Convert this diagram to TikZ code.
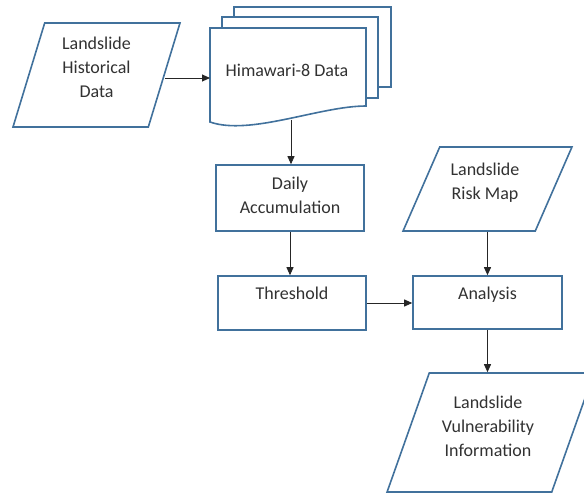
\documentclass[tikz,border=0pt]{standalone}
\usepackage{fontspec}
\setmainfont{Carlito}
\usetikzlibrary{shapes.geometric,arrows.meta}
\definecolor{boxblue}{RGB}{65,113,156}
\definecolor{txtgray}{RGB}{50,50,50}
\tikzset{
  boxline/.style={draw=boxblue, line width=1.6pt, fill=white},
  procbox/.style={boxline, rectangle, inner sep=0pt},
  iobox/.style={boxline, trapezium, trapezium stretches=true, inner sep=3pt},
  txt/.style={text=txtgray, align=center, inner sep=0pt, font=\fontsize{18}{24}\selectfont},
  conn/.style={line width=0.9pt, black!85, -{Triangle[length=8pt,width=7pt]}}
}
\begin{document}
\begin{tikzpicture}[x=1pt, y=-1pt]
	\useasboundingbox (0,0) rectangle (584,493);

	% input data
	\node[iobox, minimum width=167pt, minimum height=104pt,
	      trapezium left angle=73, trapezium right angle=107] (hist) at (96.5,75) {};
	\node[txt] (histtext) at ([yshift=8pt]hist.center) {Landslide\\Historical\\Data};

	% stacked documents
	\draw[boxline] (234,7) rectangle (391,87);
	\draw[boxline] (222,17) rectangle (378,98);
	\draw[boxline] (210,28) -- (366,28) -- (366,106)
	      .. controls (320,106) and (250,136) .. (210,122) -- cycle;
	\node[txt] (himawari) at (287,70) {Himawari-8 Data};
	\coordinate (docin) at (210,78);
	\coordinate (docout) at (291,119.5);

	% processing
	\node[procbox, minimum width=148pt, minimum height=66pt] (daily) at (290,198) {};
	\node[txt] (dailytext) at ([yshift=2.5pt]daily.center) {Daily\\Accumulation};
	\node[procbox, minimum width=148pt, minimum height=54pt] (thresh) at (292,303) {};
	\node[txt] (threshtext) at ([yshift=10pt]thresh.center) {Threshold};
	\node[procbox, minimum width=149pt, minimum height=53pt] (analysis) at (487.5,302.5) {};
	\node[txt] (analysistext) at ([yshift=7.5pt]analysis.center) {Analysis};

	\node[iobox, minimum width=169pt, minimum height=84pt,
	      trapezium left angle=69, trapezium right angle=111] (risk) at (487.5,189) {};
	\node[txt] (risktext) at ([xshift=-2.5pt,yshift=6pt]risk.center) {Landslide\\Risk Map};

	% output
	\node[iobox, minimum width=207pt, minimum height=119pt,
	      trapezium left angle=71, trapezium right angle=109] (vuln) at (490.5,432.5) {};
	\node[txt] (vulntext) at ([xshift=-2.5pt,yshift=6.5pt]vuln.center) {Landslide\\Vulnerability\\Information};

	% connectors
	\draw[conn] ([yshift=-3pt]hist.east) -- (docin);
	\draw[conn] (docout) -- (docout |- daily.north);
	\draw[conn] (daily.south) -- (daily.south |- thresh.north);
	\draw[conn] (thresh.east) -- (thresh.east -| analysis.west);
	\draw[conn] (risk.center |- risk.south) -- (risk.center |- analysis.north);
	\draw[conn] (analysis.south) -- (analysis.south |- vuln.north);

\end{tikzpicture}
\end{document}
